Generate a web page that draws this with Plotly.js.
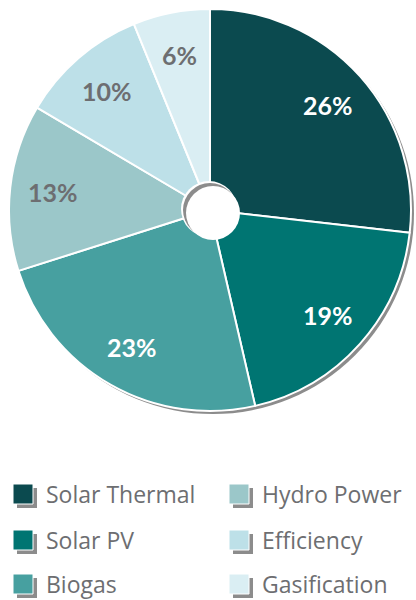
<!DOCTYPE html>
<html>
<head>
<meta charset="utf-8">
<script src="https://cdn.plot.ly/plotly-3.0.1.min.js"></script>
<style>html,body{margin:0;padding:0;background:#fff;}#chart{width:416px;height:600px;}</style>
</head>
<body>
<div id="chart"></div>
<script>
var categories = ["Solar Thermal", "Solar PV", "Biogas", "Hydro Power", "Efficiency", "Gasification"];
var shares = [26, 19, 23, 13, 10, 6];
var colors = ["#0b4a4f", "#007572", "#47a0a0", "#9bc7c9", "#bde0e8", "#daeef3"];
var textColors = ["#ffffff", "#ffffff", "#ffffff", "#6d6e71", "#6d6e71", "#6d6e71"];

var W = 416, H = 600;
function px(x) { return x / W; }
function py(y) { return 1 - y / H; }

var cx = 210, cy = 210, R = 201;

var trace = {
  type: "pie",
  labels: categories,
  values: shares,
  sort: false,
  direction: "clockwise",
  rotation: 0,
  marker: { colors: colors, line: { color: "#ffffff", width: 2 } },
  textinfo: "none",
  hoverinfo: "none",
  showlegend: false,
  domain: { x: [px(cx - R), px(cx + R)], y: [py(cy + R), py(cy - R)] }
};

var shapes = [];
var annotations = [];
// outer drop shadow
shapes.push({ type: "circle", xref: "paper", yref: "paper", layer: "below",
  x0: px(cx - R + 3), x1: px(cx + R + 3), y0: py(cy + R + 3), y1: py(cy - R + 3),
  fillcolor: "#8c8c8c", line: { width: 0 } });
// hole with inset shadow
var hr = 28;
shapes.push({ type: "circle", xref: "paper", yref: "paper", layer: "above",
  x0: px(cx - hr - 1), x1: px(cx + hr - 1), y0: py(cy + hr - 1), y1: py(cy - hr - 1),
  fillcolor: "#ffffff", line: { width: 0 } });
shapes.push({ type: "circle", xref: "paper", yref: "paper", layer: "above",
  x0: px(cx - hr + 1), x1: px(cx + hr - 1), y0: py(cy + hr - 1), y1: py(cy - hr + 1),
  fillcolor: "#8c8c8c", line: { width: 0 } });
shapes.push({ type: "circle", xref: "paper", yref: "paper", layer: "above",
  x0: px(cx - hr + 4), x1: px(cx + hr + 2), y0: py(cy + hr + 2), y1: py(cy - hr + 4),
  fillcolor: "#ffffff", line: { width: 0 } });

// slice labels at the middle angle of each slice
var total = shares.reduce(function (a, b) { return a + b; }, 0);
var cum = 0, rLab = 0.785 * R;
shares.forEach(function (v, i) {
  var mid = (cum + v / 2) / total * 2 * Math.PI;
  cum += v;
  var x = cx + rLab * Math.sin(mid), y = cy - rLab * Math.cos(mid);
  annotations.push({ xref: "paper", yref: "paper", x: px(x), y: py(y),
    xanchor: "center", yanchor: "middle", showarrow: false, text: "<b>" + v + "%</b>",
    font: { family: "Lato, 'Open Sans', sans-serif", size: 25, color: textColors[i] } });
});

// manual legend, two columns
var colX = [13, 229], rowY = [494, 540, 584], sq = 20;
categories.forEach(function (name, i) {
  var col = Math.floor(i / 3), row = i % 3;
  var x = colX[col], y = rowY[row];
  shapes.push({ type: "rect", xref: "paper", yref: "paper", layer: "above",
    x0: px(x + 4), x1: px(x + sq + 4), y0: py(y + sq / 2 + 4), y1: py(y - sq / 2 + 4),
    fillcolor: "#8c8c8c", line: { width: 0 } });
  shapes.push({ type: "rect", xref: "paper", yref: "paper", layer: "above",
    x0: px(x), x1: px(x + sq), y0: py(y + sq / 2), y1: py(y - sq / 2),
    fillcolor: colors[i], line: { color: "#ffffff", width: 1 } });
  annotations.push({ xref: "paper", yref: "paper", x: px(x + 32), y: py(y),
    xanchor: "left", yanchor: "middle", showarrow: false, text: name, borderpad: 0,
    font: { family: "'Open Sans', sans-serif", size: 23, color: "#6d6e71" } });
});

var layout = {
  width: W, height: H,
  margin: { l: 0, r: 0, t: 0, b: 0 },
  paper_bgcolor: "#ffffff",
  showlegend: false,
  shapes: shapes,
  annotations: annotations
};

Plotly.newPlot("chart", [trace], layout, { staticPlot: true });
</script>
</body>
</html>
